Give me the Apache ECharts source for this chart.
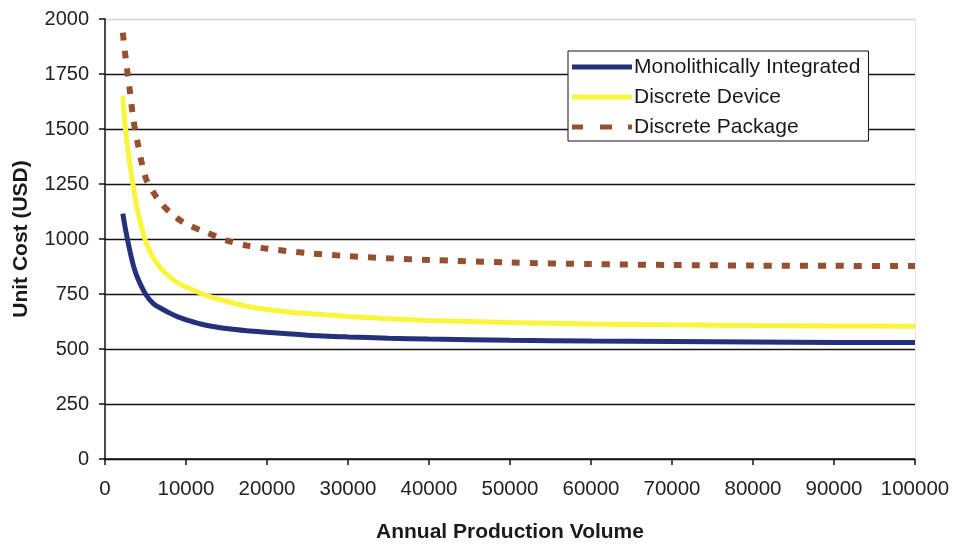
<!DOCTYPE html>
<html>
<head>
<meta charset="utf-8">
<script src="https://cdn.jsdelivr.net/npm/echarts@6/dist/echarts.min.js"></script>
<style>
  html, body { margin: 0; padding: 0; background: #fff; }
  #chart { width: 953px; height: 548px; }
</style>
</head>
<body>
<div id="chart"></div>
<script>
// Annual production volume (units per year)
const volumes = [2200, 2500, 3000, 3500, 4000, 5000, 6000, 7000, 8000, 9000, 10000,
                 12500, 15000, 17500, 20000, 25000, 30000, 35000, 40000,
                 50000, 60000, 70000, 80000, 90000, 100000];

// Unit cost (USD) per approach
const monolithic = [1115, 1050, 958, 880, 825, 750, 705, 683, 663, 646, 633,
                    608, 593, 583, 576, 563, 555, 549, 545,
                    540, 536, 534, 532, 530, 529];
const discreteDevice = [1650, 1510, 1355, 1240, 1132, 991, 912, 862, 828, 800, 782,
                        744, 717, 695, 680, 661, 648, 638, 630,
                        620, 614, 610, 607, 605, 603];
const discretePackage = [1938, 1838, 1693, 1544, 1442, 1280, 1210, 1160, 1122, 1092, 1068,
                         1030, 994, 970, 956, 936, 922, 912, 905,
                         893, 886, 882, 879, 878, 877];

const seriesNames = ['Monolithically Integrated', 'Discrete Device', 'Discrete Package'];
const seriesColors = ['#24307a', '#f8f53c', '#95512f'];
const xTicks = { min: 0, max: 100000, interval: 10000 };
const yTicks = { min: 0, max: 2000, interval: 250 };

// Legend swatches: solid bars for the solid lines, three dashes for the dashed one
const legendIcons = [
  'path://M0,0h60v5h-60z',
  'path://M0,0h60v5h-60z',
  'path://M0,0h11v5h-11zM28,0h12v5h-12zM56,0h4v5h-4z'
];

const pairs = (ys) => volumes.map((v, i) => [v, ys[i]]);
const plain = (v) => String(v);

const font = 'Liberation Sans, Arial, sans-serif';
const chart = echarts.init(document.getElementById('chart'), null, { renderer: 'canvas' });

const lineSeries = (idx, values, width, dash, z) => ({
  name: seriesNames[idx],
  type: 'line',
  data: pairs(values),
  smooth: 0.3,
  symbol: 'none',
  lineStyle: { color: seriesColors[idx], width: width, type: dash, cap: 'butt' },
  itemStyle: { color: seriesColors[idx] },
  z: z
});

const series = [
  lineSeries(0, monolithic, 5, 'solid', 4),
  lineSeries(1, discreteDevice, 5, 'solid', 3),
  lineSeries(2, discretePackage, 6, [8, 10], 2)
];

// faint right-hand border of the plot area
series[2].markLine = {
  silent: true,
  symbol: 'none',
  label: { show: false },
  lineStyle: { color: '#e6e6e6', width: 1, type: 'solid' },
  data: [{ xAxis: xTicks.max }]
};

chart.setOption({
  animation: false,
  backgroundColor: '#ffffff',
  grid: { left: 105, right: 38, top: 19, bottom: 79, containLabel: false },
  legend: {
    orient: 'vertical',
    left: 568,
    top: 51,
    padding: [5, 8, 3, 4],
    itemGap: 8,
    itemWidth: 60,
    itemHeight: 5,
    backgroundColor: '#ffffff',
    borderColor: '#111111',
    borderWidth: 1,
    borderRadius: 0,
    textStyle: { fontFamily: font, fontSize: 21, lineHeight: 22, color: '#1a1a1a', padding: [0, 0, 0, -3] },
    data: seriesNames.map((n, i) => ({ name: n, icon: legendIcons[i], itemStyle: { color: seriesColors[i] } }))
  },
  xAxis: {
    type: 'value',
    min: xTicks.min, max: xTicks.max, interval: xTicks.interval,
    name: 'Annual Production Volume',
    nameLocation: 'middle',
    nameGap: 63,
    nameTextStyle: { fontFamily: font, fontSize: 21, fontWeight: 'bold', color: '#1a1a1a' },
    axisLine: { show: true, lineStyle: { color: '#111', width: 1.5 } },
    axisTick: { show: true, length: 6, lineStyle: { color: '#111', width: 1.5 } },
    axisLabel: { fontFamily: font, fontSize: 20.5, color: '#222', margin: 20, formatter: plain },
    splitLine: { show: false }
  },
  yAxis: {
    type: 'value',
    min: yTicks.min, max: yTicks.max, interval: yTicks.interval,
    name: 'Unit Cost (USD)',
    nameLocation: 'middle',
    nameGap: 73,
    nameRotate: 90,
    nameTextStyle: { fontFamily: font, fontSize: 21, fontWeight: 'bold', color: '#1a1a1a' },
    axisLine: { show: true, lineStyle: { color: '#111', width: 1.5 } },
    axisTick: { show: true, length: 6, lineStyle: { color: '#111', width: 1.5 } },
    axisLabel: { fontFamily: font, fontSize: 20, color: '#222', margin: 16, formatter: plain },
    splitLine: {
      show: true,
      lineStyle: {
        color: ['#111', '#111', '#111', '#111', '#111', '#111', '#111', '#111', '#d4d4d4'],
        width: 1.3
      }
    }
  },
  series: series
});
</script>
</body>
</html>
